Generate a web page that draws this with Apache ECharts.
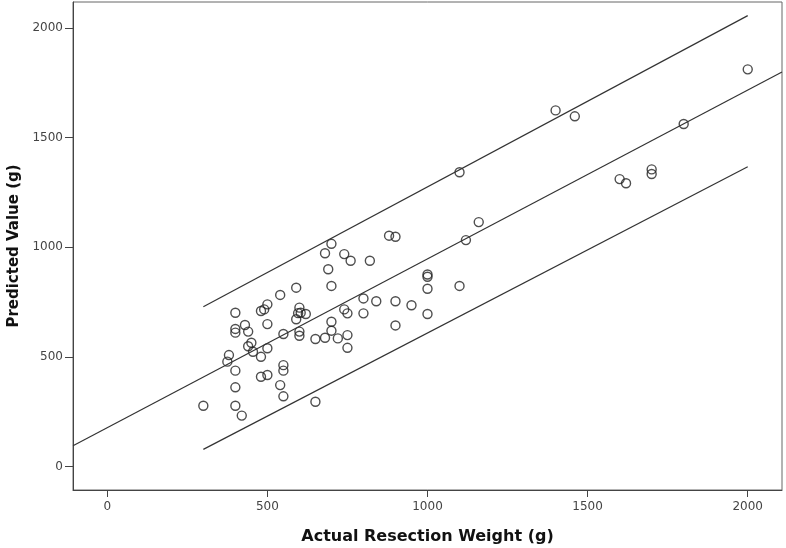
<!DOCTYPE html>
<html>
<head>
<meta charset="utf-8">
<script src="https://cdn.jsdelivr.net/npm/echarts@6/dist/echarts.min.js"></script>
<style>
html,body{margin:0;padding:0;background:#fff;}
#chart{width:786px;height:548px;}
</style>
</head>
<body>
<div id="chart"></div>
<script>
// Observed points: [actual resection weight (g), predicted value (g)]
const points = [
  [300, 278], [400, 702], [400, 628], [400, 611], [430, 646], [440, 616],
  [380, 509], [375, 479], [400, 438], [400, 362], [400, 278], [420, 233],
  [440, 549], [450, 565], [455, 524], [480, 501], [480, 410], [500, 418],
  [500, 540], [480, 710], [490, 717], [500, 740], [500, 650], [540, 783],
  [550, 605], [550, 463], [550, 438], [540, 372], [550, 321], [590, 816],
  [600, 725], [596, 700], [604, 702], [590, 672], [620, 696], [600, 616],
  [600, 597], [650, 582], [650, 296], [690, 900], [680, 973], [700, 1016],
  [740, 969], [760, 939], [820, 939], [700, 824], [700, 661], [700, 620],
  [680, 588], [720, 585], [740, 717], [750, 699], [750, 600], [750, 542],
  [800, 767], [800, 699], [840, 754], [900, 754], [900, 644], [950, 736],
  [1000, 696], [1000, 811], [1000, 866], [1000, 876], [1100, 824], [880, 1053],
  [900, 1048], [1120, 1033], [1160, 1115], [1100, 1342], [1400, 1624], [1460, 1597],
  [1600, 1311], [1620, 1292], [1700, 1355], [1700, 1334], [1800, 1562], [2000, 1811]
];
// Fit line and prediction interval lines (end points)
const fitLine = [[-107, 96], [2107, 1799]];
const upperLine = [[300, 729], [2000, 2056]];
const lowerLine = [[300, 79], [2000, 1367]];
// Tick labels
const xTicks = [0, 500, 1000, 1500, 2000];
const yTicks = [0, 500, 1000, 1500, 2000];
const xTitle = 'Actual Resection Weight (g)';
const yTitle = 'Predicted Value (g)';

const chart = echarts.init(document.getElementById('chart'), null, {renderer: 'canvas'});
const axisLineStyle = {show: true, onZero: false, lineStyle: {color: '#444', width: 1}};
const labelStyle = {color: '#444', fontFamily: 'DejaVu Sans', fontSize: 12, formatter: v => String(v)};
const lineStyle = {color: '#333', width: 1.2};
chart.setOption({
  animation: false,
  backgroundColor: '#fff',
  grid: {left: 73, top: 2, right: 4, bottom: 58, show: true, borderColor: '#666', borderWidth: 1,
         containLabel: false, outerBoundsMode: 'none'},
  xAxis: {
    type: 'value', min: -107, max: 2107,
    name: xTitle, nameLocation: 'middle', nameGap: 39,
    nameTextStyle: {fontFamily: 'DejaVu Sans', fontWeight: 'bold', fontSize: 16, color: '#111'},
    axisLine: axisLineStyle,
    axisTick: {show: true, length: 7, lineStyle: {color: '#444', width: 1}, customValues: xTicks},
    axisLabel: Object.assign({}, labelStyle, {customValues: xTicks, margin: 11}),
    splitLine: {show: false}
  },
  yAxis: {
    type: 'value', min: -106, max: 2118,
    name: yTitle, nameLocation: 'middle', nameGap: 50, nameRotate: 90,
    nameTextStyle: {fontFamily: 'DejaVu Sans', fontWeight: 'bold', fontSize: 15, color: '#111'},
    axisLine: axisLineStyle,
    axisTick: {show: true, length: 8, lineStyle: {color: '#444', width: 1}, customValues: yTicks},
    axisLabel: Object.assign({}, labelStyle, {customValues: yTicks, margin: 10}),
    splitLine: {show: false}
  },
  series: [
    {type: 'line', data: fitLine, symbol: 'none', lineStyle: lineStyle, silent: true, clip: true},
    {type: 'line', data: upperLine, symbol: 'none', lineStyle: lineStyle, silent: true, clip: true},
    {type: 'line', data: lowerLine, symbol: 'none', lineStyle: lineStyle, silent: true, clip: true},
    {type: 'scatter', data: points, symbol: 'circle', symbolSize: 9,
     itemStyle: {color: 'rgba(0,0,0,0)', borderColor: '#222', borderWidth: 1.4}}
  ]
});
</script>
</body>
</html>
